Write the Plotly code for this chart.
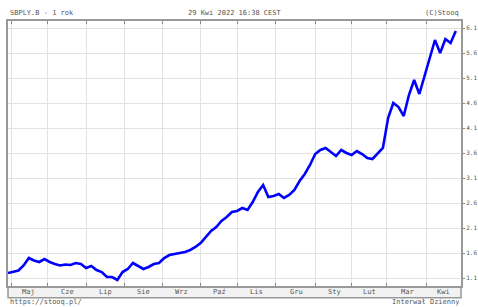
import pandas as pd
import plotly.graph_objects as go

# ---- data ----
dates = pd.bdate_range("2021-04-29", "2022-04-29", freq="3B")
prices = [1.20, 1.22, 1.25, 1.35, 1.50, 1.45, 1.42, 1.48, 1.42, 1.38,
          1.35, 1.37, 1.36, 1.40, 1.38, 1.30, 1.34, 1.26, 1.22, 1.12,
          1.12, 1.06, 1.22, 1.28, 1.40, 1.34, 1.28, 1.32, 1.38, 1.40,
          1.50, 1.56, 1.58, 1.60, 1.62, 1.66, 1.72, 1.80, 1.92, 2.04,
          2.12, 2.24, 2.32, 2.42, 2.44, 2.50, 2.46, 2.62, 2.82, 2.96,
          2.72, 2.74, 2.78, 2.70, 2.76, 2.86, 3.04, 3.18, 3.36, 3.58,
          3.66, 3.70, 3.62, 3.54, 3.66, 3.60, 3.56, 3.64, 3.58, 3.50,
          3.48, 3.58, 3.70, 4.30, 4.60, 4.52, 4.34, 4.76, 5.06, 4.78,
          5.14, 5.52, 5.86, 5.60, 5.88, 5.80, 6.04]
n = min(len(dates), len(prices))
dates = dates[:n]
prices = prices[:n]

month_starts = ["2021-05-03", "2021-06-01", "2021-07-01", "2021-08-02",
                "2021-09-01", "2021-10-01", "2021-11-01", "2021-12-01",
                "2022-01-03", "2022-02-01", "2022-03-01", "2022-04-01"]
month_labels = ["Maj", "Cze", "Lip", "Sie", "Wrz", "Paź", "Lis", "Gru",
                "Sty", "Lut", "Mar", "Kwi"]
y_ticks = [1.1, 1.6, 2.1, 2.6, 3.1, 3.6, 4.1, 4.6, 5.1, 5.6, 6.1]
y_tick_labels = ["1.1", "1.6", "2.1", "2.6", "3.1", "3.6", "4.1", "4.6",
                 "5.1", "5.6", "6.1"]

title_left = "SBPLY.B - 1 rok"
title_mid = "29 Kwi 2022 16:38 CEST"
title_right = "(C)Stooq"
foot_left = "https://stooq.pl/"
foot_right = "Interwał Dzienny"

x_start, x_end = "2021-04-29", "2022-04-29"

FONT = "DejaVu Sans Mono"
GREY = "#555555"

fig = go.Figure()
fig.add_trace(go.Scatter(x=dates, y=prices, mode="lines",
                         line=dict(color="#0000ff", width=2.6),
                         hoverinfo="skip", showlegend=False))

# month label positions: midpoint between successive month starts
bounds = [pd.Timestamp(x_start)] + [pd.Timestamp(m) for m in month_starts[1:]] + [pd.Timestamp(x_end)]
mids = []
for a, b in zip(bounds[:-1], bounds[1:]):
    days = pd.bdate_range(a, b)
    mids.append(days[len(days) // 2])

annotations = []
for d, lab in zip(mids, month_labels):
    annotations.append(dict(x=d, y=-0.024, xref="x", yref="paper", text=lab,
                            showarrow=False, yanchor="middle", xanchor="center",
                            font=dict(family=FONT, size=7, color=GREY)))
annotations += [
    dict(x=0, y=1.008, xref="paper", yref="paper", text=title_left, showarrow=False,
         xanchor="left", yanchor="bottom", font=dict(family=FONT, size=7, color=GREY)),
    dict(x=0.5, y=1.008, xref="paper", yref="paper", text=title_mid, showarrow=False,
         xanchor="center", yanchor="bottom", font=dict(family=FONT, size=7, color=GREY)),
    dict(x=1, y=1.008, xref="paper", yref="paper", text=title_right, showarrow=False,
         xanchor="right", yanchor="bottom", font=dict(family=FONT, size=7, color=GREY)),
    dict(x=0, y=-0.062, xref="paper", yref="paper", text=foot_left, showarrow=False,
         xanchor="left", yanchor="middle", font=dict(family=FONT, size=7, color=GREY)),
    dict(x=1, y=-0.062, xref="paper", yref="paper", text=foot_right, showarrow=False,
         xanchor="right", yanchor="middle", font=dict(family=FONT, size=7, color=GREY)),
]

shapes = [dict(type="rect", xref="paper", yref="paper", x0=0, x1=1,
               y0=-0.044, y1=-0.004, line=dict(color="#999999", width=1.5),
               fillcolor="#f2f2f2", layer="below")]

fig.update_layout(
    width=478, height=307,
    margin=dict(l=8, r=17, t=21, b=21),
    paper_bgcolor="white", plot_bgcolor="white",
    annotations=annotations, shapes=shapes,
    xaxis=dict(type="date", range=[x_start, x_end],
               rangebreaks=[dict(bounds=["sat", "mon"])],
               tickvals=month_starts, showticklabels=False,
               showgrid=True, gridcolor="#e2e2e2", gridwidth=1,
               ticks="inside", ticklen=3, tickcolor="#888888",
               showline=True, linecolor="#999999", linewidth=2, mirror="ticks",
               zeroline=False),
    yaxis=dict(range=[0.94, 6.24], side="right",
               tickvals=y_ticks, ticktext=y_tick_labels,
               showgrid=True, gridcolor="#e2e2e2", gridwidth=1,
               ticks="outside", ticklen=2, tickcolor="#888888",
               tickfont=dict(family=FONT, size=6, color=GREY),
               showline=True, linecolor="#999999", linewidth=2, mirror=True,
               zeroline=False, automargin=False),
)

fig.write_html("out.html",
               config={"displayModeBar": False, "staticPlot": True},
               post_script="document.body.style.margin='0';document.body.style.overflow='hidden';")
